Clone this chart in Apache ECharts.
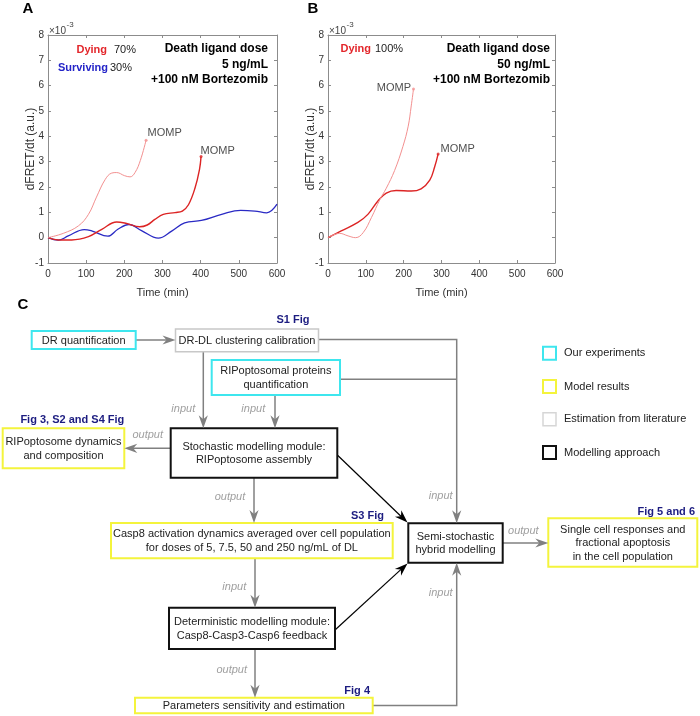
<!DOCTYPE html>
<html><head><meta charset="utf-8">
<script src="https://cdn.jsdelivr.net/npm/echarts@6/dist/echarts.min.js"></script>
<style>html,body{margin:0;padding:0;background:#fff}#c{width:700px;height:716px}</style>
</head><body><div id="c"></div>
<script>
// ---------- DATA ----------
// Panel A (5 ng/mL + 100 nM Bortezomib)
const timeA_dyingEarly = [0, 40, 80, 106, 127, 150, 167, 180, 200, 215, 228, 242, 257];
const valA_dyingEarly  = [0, 0.17, 0.47, 0.92, 1.6, 2.3, 2.55, 2.57, 2.45, 2.4, 2.57, 3.05, 3.85];
const timeA_dyingLate  = [0, 27, 62, 106, 141, 180, 206, 240, 260, 280, 302, 333, 352, 368, 385, 397, 401];
const valA_dyingLate   = [0, -0.09, -0.09, 0.04, 0.33, 0.62, 0.56, 0.43, 0.5, 0.72, 0.92, 0.99, 1.05, 1.3, 1.95, 2.7, 3.2];
const timeA_surviving  = [0, 27, 53, 95, 116, 157, 183, 212, 245, 289, 324, 358, 402, 455, 505, 542, 573, 600];
const valA_surviving   = [0, -0.1, 0.07, 0.32, 0.26, 0.06, 0.33, 0.52, 0.28, -0.02, 0.26, 0.58, 0.68, 0.92, 1.08, 1.05, 0.98, 1.32];
// Panel B (50 ng/mL + 100 nM Bortezomib)
const timeB_dyingLight = [0, 31, 53, 73, 93, 115, 137, 154, 176, 198, 212, 220, 226];
const valB_dyingLight  = [0, 0.17, 0.07, 0.0, 0.2, 0.8, 1.5, 1.95, 2.65, 3.6, 4.4, 5.2, 5.87];
const timeB_dyingDark  = [0, 35, 79, 106, 132, 154, 180, 220, 246, 269, 282, 291];
const valB_dyingDark   = [0, 0.27, 0.6, 0.93, 1.45, 1.76, 1.86, 1.84, 1.93, 2.27, 2.8, 3.3];
// axis ticks
const xTicks = [0, 600, 100];   // min, max, interval
const yTicks = [-1, 8, 1];
// texts
const panelA_fractions = [['Dying', '70%'], ['Surviving', '30%']];
const panelB_fractions = [['Dying', '100%']];
const panelA_dose = ['Death ligand dose', '5 ng/mL', '+100 nM Bortezomib'];
const panelB_dose = ['Death ligand dose', '50 ng/mL', '+100 nM Bortezomib'];
const momp = 'MOMP';
const legendItems = ['Our experiments', 'Model results', 'Estimation from literature', 'Modelling approach'];
const flowTexts = {
  drq: 'DR quantification',
  drdl: 'DR-DL clustering calibration',
  rip: 'RIPoptosomal proteins\nquantification',
  ripdyn: 'RIPoptosome dynamics\nand composition',
  stoch: 'Stochastic modelling module:\nRIPoptosome assembly',
  casp8: 'Casp8 activation dynamics averaged over cell population\nfor doses of 5, 7.5, 50 and 250 ng/mL of DL',
  semi: 'Semi-stochastic\nhybrid modelling',
  single: 'Single cell responses and\nfractional apoptosis\nin the cell population',
  det: 'Deterministic modelling module:\nCasp8-Casp3-Casp6 feedback',
  param: 'Parameters sensitivity and estimation'
};
const figRefs = ['S1 Fig', 'Fig 3, S2 and S4 Fig', 'S3 Fig', 'Fig 5 and 6', 'Fig 4'];

// ---------- STYLE ----------
const FF = '"Liberation Sans", Arial, Helvetica, sans-serif';
const AX = '#8c8c8c';
const RED = '#dc2424', PINK = '#f39090', BLUE = '#2a2ac4';
const CYAN = '#3ee6ee', YEL = '#f4f43c', LGRAY = '#c8c8c8', ARW = '#808080', NAVY = '#1c1c80';

const zip = (t, v) => t.map((x, i) => [x, v[i]]);

function xAx(gi, pos) {
  return {
    type: 'value', gridIndex: gi, position: pos, min: xTicks[0], max: xTicks[1], interval: xTicks[2],
    axisLine: { show: true, onZero: false, lineStyle: { color: AX, width: 1 } },
    axisTick: { show: true, inside: true, length: 3, lineStyle: { color: AX } },
    axisLabel: { show: pos === 'bottom', color: '#333', fontSize: 10, margin: 6, fontFamily: FF },
    splitLine: { show: false },
    name: pos === 'bottom' ? 'Time (min)' : '', nameLocation: 'middle', nameGap: 24,
    nameTextStyle: { color: '#333', fontSize: 11, fontFamily: FF }
  };
}
function yAx(gi, pos) {
  return {
    type: 'value', gridIndex: gi, position: pos, min: yTicks[0], max: yTicks[1], interval: yTicks[2],
    axisLine: { show: true, onZero: false, lineStyle: { color: AX, width: 1 } },
    axisTick: { show: true, inside: true, length: 3, lineStyle: { color: AX } },
    axisLabel: { show: pos === 'left', color: '#333', fontSize: 10, margin: 4, fontFamily: FF },
    splitLine: { show: false },
    name: pos === 'left' ? 'dFRET/dt (a.u.)' : '', nameLocation: 'middle', nameGap: 11,
    nameMoveOverlap: false,
    nameTextStyle: { color: '#333', fontSize: 12, fontFamily: FF }
  };
}
function curve(xi, t, v, color, w) {
  return { type: 'line', xAxisIndex: xi, yAxisIndex: xi, data: zip(t, v), smooth: 0.4, symbol: 'none',
    lineStyle: { color, width: w }, silent: true, z: 3 };
}
function endPoint(xi, t, v, color, pos, offset) {
  return { type: 'scatter', xAxisIndex: xi, yAxisIndex: xi, data: [[t[t.length - 1], v[v.length - 1]]],
    symbol: 'circle', symbolSize: 3, itemStyle: { color }, silent: true, z: 4,
    label: { show: true, formatter: momp, position: pos, distance: 1, offset, color: '#222', fontSize: 11, fontFamily: FF } };
}

// ---------- GRAPHIC (annotations + flowchart) ----------
const els = [];
function rect(x1, y1, x2, y2, stroke, lw) {
  els.push({ type: 'rect', shape: { x: x1, y: y1, width: x2 - x1, height: y2 - y1 }, style: { fill: '#fff', stroke, lineWidth: lw }, z: 10 });
}
function txt(x, y, s, o) {
  o = o || {};
  els.push({ type: 'text', x, y, z: 20, style: { text: s, fill: o.fill || '#222',
    font: (o.italic ? 'italic ' : '') + (o.bold ? 'bold ' : '') + (o.size || 11) + 'px ' + FF,
    align: o.align || 'center', verticalAlign: 'middle', lineHeight: o.lh || 13.5 } });
}
function pl(pts, stroke, lw) {
  els.push({ type: 'polyline', shape: { points: pts }, style: { stroke, lineWidth: lw || 1.5, fill: null }, z: 5 });
}
function head(tx, ty, ang, fill) {
  const L = 13, W = 4.6, B = 9, c = Math.cos(ang), s = Math.sin(ang);
  const rel = [[0, 0], [-L, -W], [-B, 0], [-L, W]];
  els.push({ type: 'polygon', shape: { points: rel.map(([a, b]) => [tx + a * c - b * s, ty + a * s + b * c]) }, style: { fill, stroke: null }, z: 15 });
}
function arrow(pts, color, lw) {
  const n = pts.length, [x1, y1] = pts[n - 2], [x2, y2] = pts[n - 1];
  const ang = Math.atan2(y2 - y1, x2 - x1);
  const p = pts.slice(0, n - 1).concat([[x2 - 8 * Math.cos(ang), y2 - 8 * Math.sin(ang)]]);
  pl(p, color, lw);
  head(x2, y2, ang, color);
}

// panel letters
txt(28, 9, 'A', { bold: true, size: 15, fill: '#000' });
txt(313, 9, 'B', { bold: true, size: 15, fill: '#000' });
txt(23, 305, 'C', { bold: true, size: 15, fill: '#000' });
// exponent labels
[49, 329].forEach(x => {
  txt(x, 31, '×10', { size: 10, align: 'left', fill: '#444' });
  txt(x + 17.5, 25, '-3', { size: 8, align: 'left', fill: '#444' });
});
// panel A annotations
txt(107, 50, panelA_fractions[0][0], { bold: true, fill: '#e3262b', align: 'right' });
txt(114, 50, panelA_fractions[0][1], { align: 'left' });
txt(108, 68, panelA_fractions[1][0], { bold: true, fill: '#2424c8', align: 'right' });
txt(110, 68, panelA_fractions[1][1], { align: 'left' });
panelA_dose.forEach((s, i) => txt(268, 49 + i * 15.5, s, { bold: true, size: 12, fill: '#000', align: 'right' }));
// panel B annotations
txt(371, 49, panelB_fractions[0][0], { bold: true, fill: '#e3262b', align: 'right' });
txt(375, 49, panelB_fractions[0][1], { align: 'left' });
panelB_dose.forEach((s, i) => txt(550, 49 + i * 15.5, s, { bold: true, size: 12, fill: '#000', align: 'right' }));

// flowchart connectors
arrow([[136, 340], [175.5, 340]], ARW);
arrow([[318.5, 339.5], [456.7, 339.5], [456.7, 523.3]], ARW);
pl([[340, 379.3], [456.7, 379.3]], ARW);
arrow([[203.3, 351.7], [203.3, 428.3]], ARW);
arrow([[275, 395], [275, 428.3]], ARW);
arrow([[170.7, 448.3], [124.3, 448.3]], ARW);
arrow([[254, 477.7], [254, 523]], ARW);
arrow([[337.3, 455], [407.5, 522.5]], '#000', 1.2);
arrow([[255, 558.3], [255, 607.7]], ARW);
arrow([[255, 649], [255, 697.7]], ARW);
arrow([[335, 630], [407.5, 563.5]], '#000', 1.2);
arrow([[372.7, 705.5], [456.7, 705.5], [456.7, 562.7]], ARW);
arrow([[502.7, 543], [548.3, 543]], ARW);
// connector labels
const IO = { italic: true, fill: '#a0a0a0' };
txt(183.3, 409.3, 'input', IO);
txt(253.3, 409.3, 'input', IO);
txt(147.7, 435, 'output', IO);
txt(230, 497.3, 'output', IO);
txt(440.7, 496, 'input', IO);
txt(523.3, 531, 'output', IO);
txt(234.3, 587.3, 'input', IO);
txt(231.7, 670, 'output', IO);
txt(440.7, 593.3, 'input', IO);

// boxes
const boxes = [
  ['drq', 31.7, 331, 135.7, 349, CYAN, 2],
  ['drdl', 175.5, 329, 318.5, 351.7, LGRAY, 1.5],
  ['rip', 211.7, 360, 340, 395, CYAN, 2],
  ['ripdyn', 2.7, 428.3, 124.3, 468.3, YEL, 2],
  ['stoch', 170.7, 428.3, 337.3, 477.7, '#111', 2],
  ['casp8', 111, 523, 392.7, 558.3, YEL, 2],
  ['semi', 408.3, 523.3, 502.7, 562.7, '#111', 2],
  ['single', 548.3, 518.3, 697.3, 566.7, YEL, 2],
  ['det', 169, 607.7, 335, 649, '#111', 2],
  ['param', 135, 697.7, 372.7, 713.3, YEL, 2]
];
boxes.forEach(([k, x1, y1, x2, y2, c, lw]) => {
  rect(x1, y1, x2, y2, c, lw);
  txt((x1 + x2) / 2, (y1 + y2) / 2 + 0.5, flowTexts[k], { lh: 13.5 });
});
// figure references
const NB = { bold: true, fill: NAVY };
txt(293, 320, figRefs[0], NB);
txt(124.3, 420, figRefs[1], Object.assign({ align: 'right' }, NB));
txt(367.5, 516, figRefs[2], NB);
txt(695, 511.7, figRefs[3], Object.assign({ align: 'right' }, NB));
txt(370, 690.7, figRefs[4], Object.assign({ align: 'right' }, NB));
// legend
const legCol = [[CYAN, 2], [YEL, 2], ['#d6d6d6', 1.5], ['#111', 2]];
const legY = [346.7, 380, 412.7, 446];
legendItems.forEach((s, i) => {
  rect(543, legY[i], 556, legY[i] + 13, legCol[i][0], legCol[i][1]);
  txt(564, legY[i] + 6.5, s, { align: 'left' });
});

// ---------- CHART ----------
const chart = echarts.init(document.getElementById('c'), null, { renderer: 'canvas' });
chart.setOption({
  backgroundColor: '#fff',
  animation: false,
  grid: [
    { left: 48, top: 35, width: 229, height: 228 },
    { left: 328, top: 35, width: 227, height: 228 }
  ],
  xAxis: [xAx(0, 'bottom'), xAx(0, 'top'), xAx(1, 'bottom'), xAx(1, 'top')],
  yAxis: [yAx(0, 'left'), yAx(0, 'right'), yAx(1, 'left'), yAx(1, 'right')],
  series: [
    curve(0, timeA_surviving, valA_surviving, BLUE, 1.3),
    curve(0, timeA_dyingLate, valA_dyingLate, RED, 1.4),
    curve(0, timeA_dyingEarly, valA_dyingEarly, PINK, 1),
    endPoint(0, timeA_dyingEarly, valA_dyingEarly, PINK, 'right', [-1, -7]),
    endPoint(0, timeA_dyingLate, valA_dyingLate, RED, 'right', [-3, -6]),
    curve(2, timeB_dyingDark, valB_dyingDark, RED, 1.4),
    curve(2, timeB_dyingLight, valB_dyingLight, PINK, 1),
    endPoint(2, timeB_dyingLight, valB_dyingLight, PINK, 'left', [0, -1]),
    endPoint(2, timeB_dyingDark, valB_dyingDark, RED, 'right', [0, -5])
  ],
  graphic: { elements: els }
});
</script></body></html>
